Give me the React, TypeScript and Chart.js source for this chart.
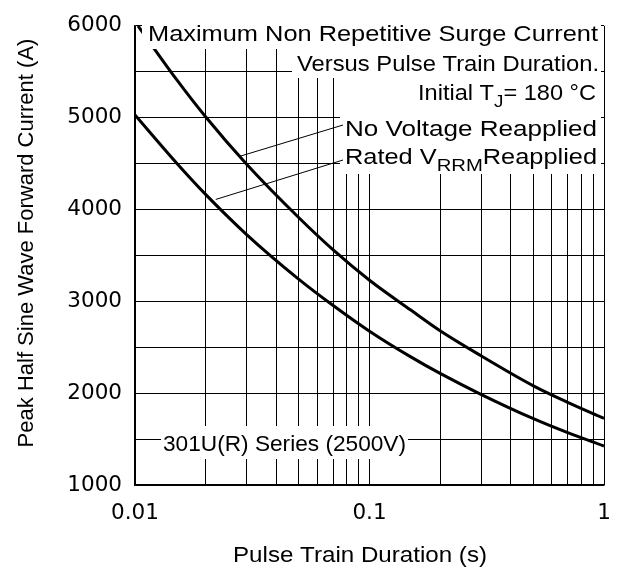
import React, { useEffect, useRef } from "react";
import { Chart, registerables } from "chart.js";

Chart.register(...registerables);

// ---- data ----
const noVoltageT = [0.0103, 0.015, 0.02, 0.03, 0.05, 0.07, 0.1, 0.15, 0.2, 0.3, 0.5, 0.7, 1];
const noVoltageA = [6000, 5420, 5010, 4490, 3910, 3560, 3230, 2905, 2680, 2405, 2080, 1900, 1725];
const ratedT = [0.01, 0.015, 0.02, 0.03, 0.05, 0.07, 0.1, 0.15, 0.2, 0.3, 0.5, 0.7, 1];
const ratedA = [5030, 4510, 4165, 3725, 3240, 2955, 2675, 2395, 2215, 1985, 1722, 1570, 1425];

const xTickValues = [
  0.01, 0.02, 0.03, 0.04, 0.05, 0.06, 0.07, 0.08, 0.09,
  0.1, 0.2, 0.3, 0.4, 0.5, 0.6, 0.7, 0.8, 0.9, 1,
];
const xTickLabels: Record<string, string> = { "0.01": "0.01", "0.1": "0.1", "1": "1" };
const yMin = 1000;
const yMax = 6000;
const yStep = 500;
const yLabelStep = 1000;

const xTitle = "Pulse Train Duration (s)";
const yTitle = "Peak Half Sine Wave Forward Current (A)";

// leader-line targets on the curves (data coordinates)
const noVoltageLeader = { x: 0.028, y: 4580 };
const ratedLeader = { x: 0.0221, y: 4110 };

const annoFont = '"Liberation Sans", Arial, sans-serif';
const tickFont = '"DejaVu Sans", sans-serif';

type Seg = { t: string; sub?: boolean };

function drawRich(
  ctx: CanvasRenderingContext2D,
  segs: Seg[],
  left: number,
  right: number,
  baseline: number,
  size: number
) {
  let total = 0;
  const widths = segs.map((s) => {
    ctx.font = `${s.sub ? size * 0.8 : size}px ${annoFont}`;
    const w = ctx.measureText(s.t).width;
    total += w;
    return w;
  });
  const sx = (right - left) / total;
  ctx.save();
  ctx.translate(left, baseline);
  ctx.scale(sx, 1);
  ctx.fillStyle = "#000";
  ctx.textAlign = "left";
  ctx.textBaseline = "alphabetic";
  let x = 0;
  segs.forEach((s, i) => {
    ctx.font = `${s.sub ? size * 0.8 : size}px ${annoFont}`;
    ctx.fillText(s.t, x, s.sub ? size * 0.33 : 0);
    x += widths[i];
  });
  ctx.restore();
}

const annotationPlugin = {
  id: "annotations",
  afterDatasetsDraw(chart: any) {
    const ctx: CanvasRenderingContext2D = chart.ctx;
    const xs = chart.scales.x;
    const ys = chart.scales.y;
    ctx.save();
    // white label boxes (they hide grid and curves beneath)
    ctx.fillStyle = "#fff";
    ctx.fillRect(142, 16, 459, 33);
    ctx.fillRect(292, 49, 309, 29);
    ctx.fillRect(340, 78, 261, 96);
    ctx.fillRect(161, 426, 247, 33);

    // leader lines
    ctx.strokeStyle = "#000";
    ctx.lineWidth = 1;
    ctx.beginPath();
    ctx.moveTo(343, 125);
    ctx.lineTo(xs.getPixelForValue(noVoltageLeader.x), ys.getPixelForValue(noVoltageLeader.y));
    ctx.moveTo(343, 160);
    ctx.lineTo(xs.getPixelForValue(ratedLeader.x), ys.getPixelForValue(ratedLeader.y));
    ctx.stroke();

    const fs = 21.5;
    drawRich(ctx, [{ t: "Maximum Non Repetitive Surge Current" }], 148, 598, 41, fs);
    drawRich(ctx, [{ t: "Versus Pulse Train Duration." }], 297, 599, 71, fs);
    drawRich(ctx, [{ t: "Initial T" }, { t: "J", sub: true }, { t: "= 180 °C" }], 418, 596, 100, fs);
    drawRich(ctx, [{ t: "No Voltage Reapplied" }], 345, 597, 136, fs);
    drawRich(ctx, [{ t: "Rated V" }, { t: "RRM", sub: true }, { t: "Reapplied" }], 345, 597, 164, fs);
    drawRich(ctx, [{ t: "301U(R) Series (2500V)" }], 163, 406, 451, fs);

    // axis titles
    drawRich(ctx, [{ t: xTitle }], 233, 487, 562, 22);
    ctx.translate(33, 243);
    ctx.rotate(-Math.PI / 2);
    ctx.font = `22px ${annoFont}`;
    ctx.fillStyle = "#000";
    ctx.textAlign = "center";
    ctx.textBaseline = "alphabetic";
    ctx.fillText(yTitle, 0, 0);
    ctx.restore();
  },
};

export default function App() {
  const ref = useRef<HTMLCanvasElement | null>(null);

  useEffect(() => {
    if (!ref.current) return;
    const chart = new Chart(ref.current, {
      type: "line",
      data: {
        datasets: [
          {
            label: "No Voltage Reapplied",
            data: noVoltageT.map((t, i) => ({ x: t, y: noVoltageA[i] })),
            borderColor: "#000",
            borderWidth: 3,
            pointRadius: 0,
            fill: false,
            cubicInterpolationMode: "monotone",
          },
          {
            label: "Rated VRRM Reapplied",
            data: ratedT.map((t, i) => ({ x: t, y: ratedA[i] })),
            borderColor: "#000",
            borderWidth: 3,
            pointRadius: 0,
            fill: false,
            cubicInterpolationMode: "monotone",
          },
        ],
      },
      options: {
        animation: false,
        responsive: false,
        devicePixelRatio: 1,
        layout: { padding: { top: 15, right: 18, left: 0, bottom: 0 } },
        plugins: { legend: { display: false }, tooltip: { enabled: false } },
        scales: {
          x: {
            type: "logarithmic",
            min: 0.01,
            max: 1,
            afterBuildTicks: (scale: any) => {
              scale.ticks = xTickValues.map((v) => ({ value: v }));
            },
            afterFit: (scale: any) => {
              scale.height = 86;
            },
            ticks: {
              autoSkip: false,
              maxRotation: 0,
              minRotation: 0,
              padding: 10,
              color: "#000",
              font: { family: tickFont, size: 21.5, lineHeight: 1.72 },
              callback: (v: any) => {
                const key = String(Number(Number(v).toPrecision(6)));
                return xTickLabels[key] ?? "";
              },
            },
            grid: { color: "#000", lineWidth: 1, drawTicks: false },
            border: { color: "#000", width: 1.5 },
            title: { display: false, text: xTitle },
          },
          y: {
            type: "linear",
            min: yMin,
            max: yMax,
            afterFit: (scale: any) => {
              scale.width = 135;
            },
            ticks: {
              stepSize: yStep,
              padding: 13,
              color: "#000",
              font: { family: tickFont, size: 21.5 },
              callback: (v: any) => (Number(v) % yLabelStep === 0 ? String(v) : ""),
            },
            grid: { color: "#000", lineWidth: 1, drawTicks: false },
            border: { color: "#000", width: 1.5 },
            title: { display: false, text: yTitle },
          },
        },
      },
      plugins: [annotationPlugin],
    } as any);
    return () => chart.destroy();
  }, []);

  return (
    <div style={{ position: "absolute", left: 0, top: 0, width: 622, height: 571, background: "#fff" }}>
      <canvas ref={ref} width={622} height={571} style={{ width: 622, height: 571, display: "block" }} />
    </div>
  );
}
